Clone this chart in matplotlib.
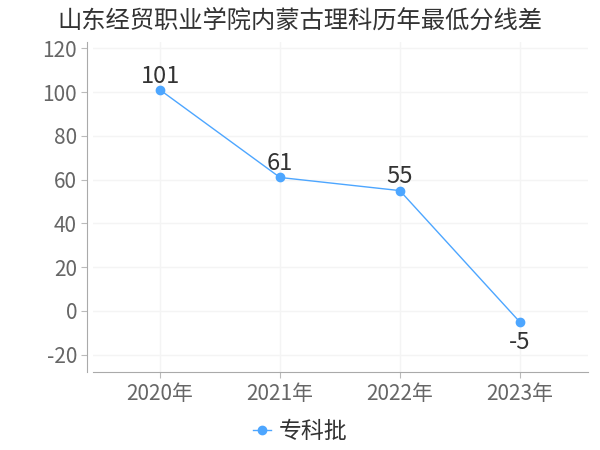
import matplotlib
matplotlib.use('Agg')
import matplotlib.pyplot as plt

plt.rcParams['font.family'] = ['Noto Sans CJK SC', 'DejaVu Sans']
plt.rcParams['axes.unicode_minus'] = False

title = '山东经贸职业学院内蒙古理科历年最低分线差'
years = ['2020年', '2021年', '2022年', '2023年']
values = [101, 61, 55, -5]
series_name = '专科批'
line_color = '#4da6ff'

fig = plt.figure(figsize=(6, 4.5), dpi=100)
ax = fig.add_axes([0.155, 0.173, 0.825, 0.734])

x = list(range(len(years)))
ax.plot(x, values, color=line_color, linewidth=1, marker='o', markersize=6,
        label=series_name, zorder=3)

for xi, v in zip(x, values):
    if v < 0:
        ax.text(xi, v - 4, str(v), ha='center', va='top', fontsize=17, color='#333333')
    else:
        ax.text(xi, v + 1, str(v), ha='center', va='bottom', fontsize=17, color='#333333')

ax.set_xlim(-0.56, 3.57)
ax.set_ylim(-28, 123)
ax.set_yticks(range(-20, 121, 20))
ax.set_xticks(x)
ax.set_xticklabels(years)

ax.grid(True, color='#f4f4f4', linewidth=1)
ax.set_axisbelow(True)
for s in ['top', 'right']:
    ax.spines[s].set_visible(False)
ax.spines['left'].set_color('#aaaaaa')
ax.spines['bottom'].set_color('#aaaaaa')
ax.spines['left'].set_position(('outward', 4))
ax.tick_params(axis='both', colors='#bbbbbb', labelcolor='#666666', labelsize=15, length=4)

fig.text(0.5, 0.955, title, ha='center', va='center', fontsize=17.5, color='#333333')

leg = fig.legend(loc='center', bbox_to_anchor=(0.5, 0.04), frameon=False,
                 fontsize=16.5, handlelength=0.8, handletextpad=0.3)
for t in leg.get_texts():
    t.set_color('#333333')

fig.savefig('out.png', dpi=100)
